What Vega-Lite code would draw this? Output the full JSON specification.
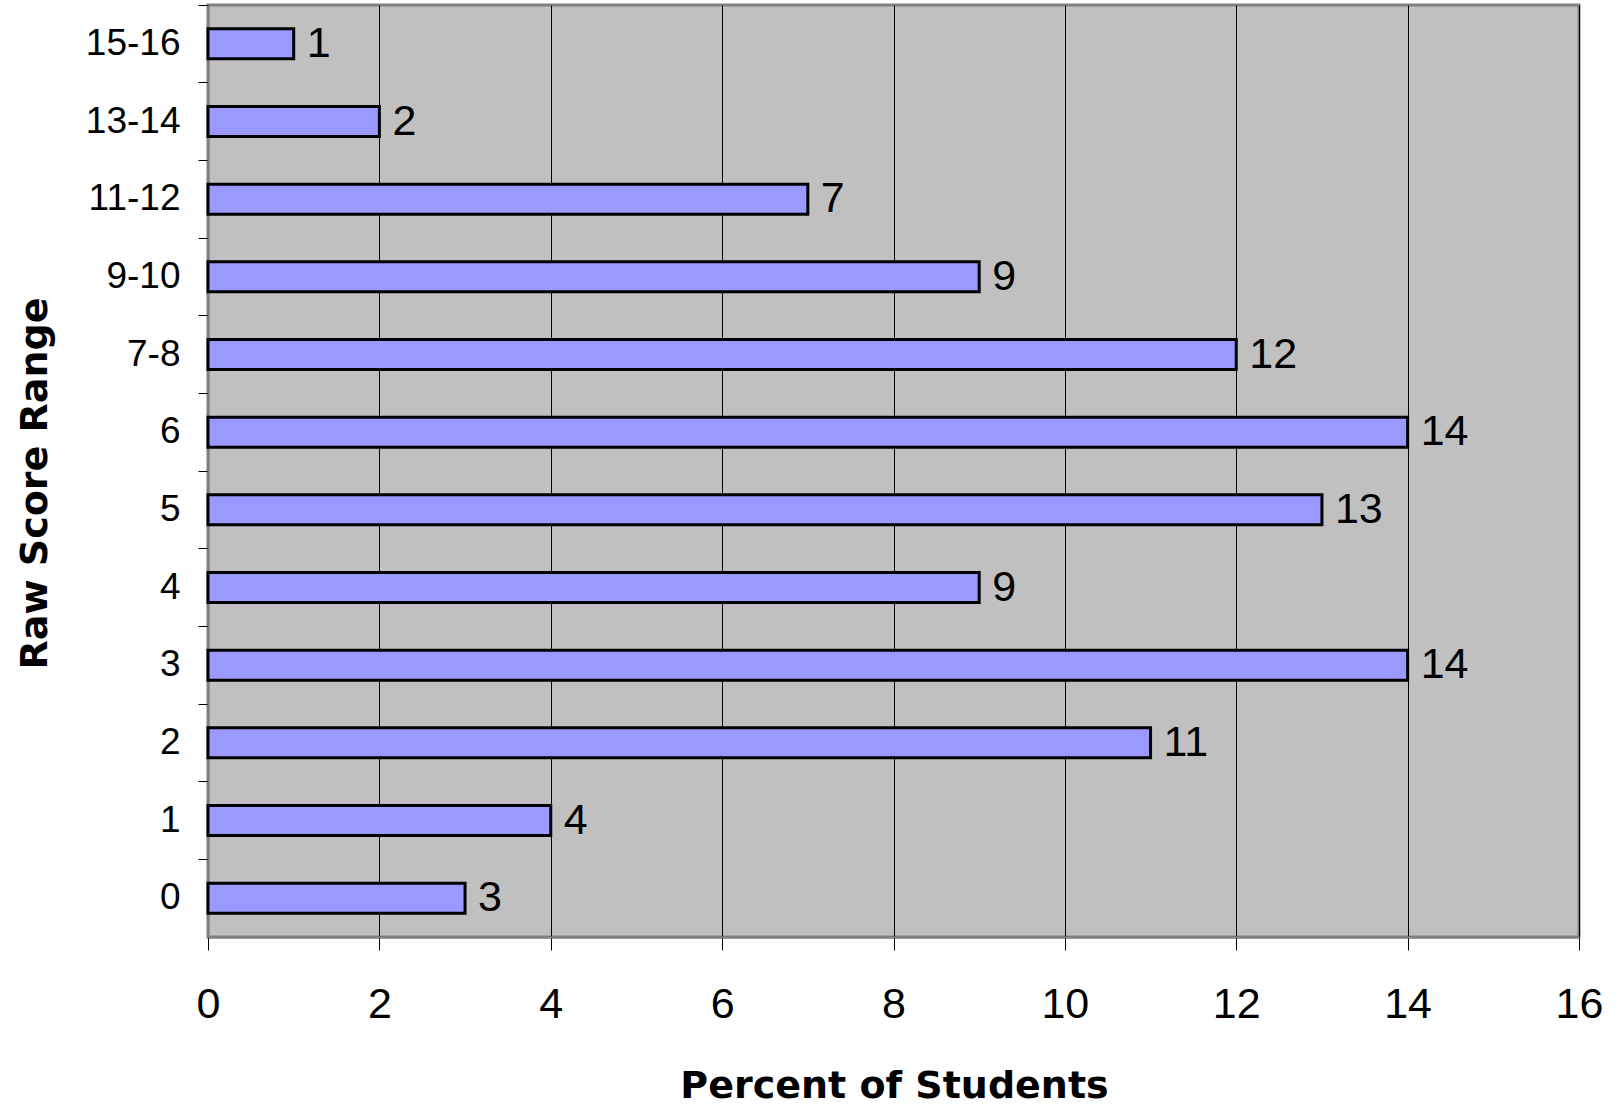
{
  "$schema": "https://vega.github.io/schema/vega-lite/v6.json",
  "autosize": {"type": "none"},
  "padding": {"left": 208, "top": 5, "right": 43, "bottom": 168},
  "width": 1371,
  "height": 932,
  "background": "white",
  "config": {
    "view": {"fill": "#C0C0C0", "stroke": "#808080", "strokeWidth": 3},
    "font": "Liberation Sans"
  },
  "data": {
    "values": [
      {"range": "15-16", "percent": 1},
      {"range": "13-14", "percent": 2},
      {"range": "11-12", "percent": 7},
      {"range": "9-10", "percent": 9},
      {"range": "7-8", "percent": 12},
      {"range": "6", "percent": 14},
      {"range": "5", "percent": 13},
      {"range": "4", "percent": 9},
      {"range": "3", "percent": 14},
      {"range": "2", "percent": 11},
      {"range": "1", "percent": 4},
      {"range": "0", "percent": 3}
    ]
  },
  "encoding": {
    "y": {
      "field": "range",
      "type": "nominal",
      "sort": null,
      "scale": {"padding": 0},
      "axis": {
        "title": "Raw Score Range",
        "titleFont": "DejaVu Sans",
        "titleFontWeight": "bold",
        "titleFontSize": 38,
        "titleColor": "black",
        "titleAngle": -90,
        "titleX": -162,
        "titleY": 478,
        "titleAlign": "center",
        "titleBaseline": "alphabetic",
        "labelFontSize": 37,
        "labelColor": "black",
        "labelPadding": 18,
        "labelBaseline": "middle",
        "tickSize": 10,
        "tickColor": "black",
        "tickWidth": 1,
        "bandPosition": 0,
        "domainColor": "#808080",
        "domainWidth": 2,
        "grid": false
      }
    },
    "x": {
      "field": "percent",
      "type": "quantitative",
      "scale": {"domain": [0, 16], "nice": false},
      "axis": {
        "title": "Percent of Students",
        "titleFont": "DejaVu Sans",
        "titleFontWeight": "bold",
        "titleFontSize": 38,
        "titleColor": "black",
        "titleX": 686,
        "titleY": 160,
        "titleAlign": "center",
        "titleBaseline": "alphabetic",
        "values": [0, 2, 4, 6, 8, 10, 12, 14, 16],
        "labelFontSize": 43,
        "labelColor": "black",
        "labelPadding": 67,
        "labelBaseline": "alphabetic",
        "labelFlush": false,
        "labelOverlap": false,
        "tickSize": 13,
        "tickColor": "black",
        "tickWidth": 1,
        "domainColor": "#808080",
        "domainWidth": 2,
        "grid": true,
        "gridColor": "black",
        "gridWidth": 1,
        "gridOpacity": 1
      }
    }
  },
  "layer": [
    {
      "mark": {"type": "bar", "size": 30, "fill": "#9999FF", "stroke": "black", "strokeWidth": 3}
    },
    {
      "mark": {"type": "text", "align": "left", "baseline": "middle", "dx": 13, "dy": 0, "fontSize": 43, "color": "black"},
      "encoding": {"text": {"field": "percent", "type": "quantitative"}}
    }
  ]
}
